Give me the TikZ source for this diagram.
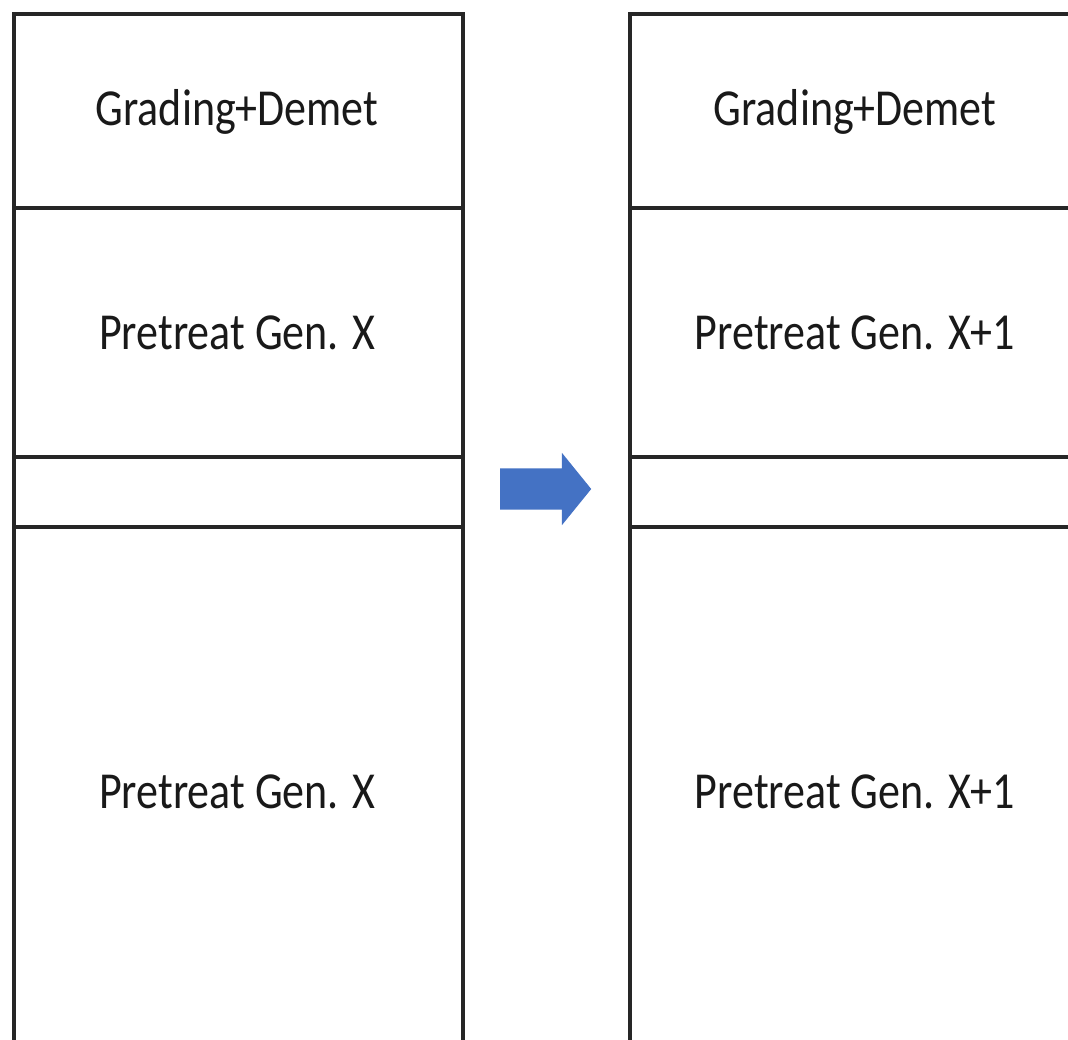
\documentclass[tikz,border=0pt]{standalone}
\usepackage{fontspec}
\usepackage{graphicx}
\setmainfont{Carlito}
\usetikzlibrary{shapes.arrows}
\definecolor{arrowblue}{HTML}{4472C4}
\definecolor{linegray}{HTML}{262626}
\newcommand\celltext[1]{\scalebox{1}[1.18]{#1}}
\tikzset{
  cell/.style={draw=linegray, line width=3.5pt, fill=white, inner sep=0pt, anchor=north west,
    font=\fontsize{44}{50}\selectfont, text=black!90},
  celllabel/.style={font=\fontsize{44}{50}\selectfont, text=black!90, inner sep=0pt},
  bigarrow/.style={shape=single arrow, fill=arrowblue, draw=none, inner xsep=0pt, inner ysep=20.5pt,
    minimum height=91pt, single arrow head extend=15.5pt, single arrow tip angle=102, anchor=west}
}
\begin{document}
\begin{tikzpicture}[x=1pt,y=-1pt]
\useasboundingbox (0,0) rectangle (1068,1039);
\clip (0,0) rectangle (1068,1039);
% left column
\node[cell, minimum width=449pt, minimum height=194pt] (l1) at (12,12) {};
\node[cell, minimum width=449pt, minimum height=249pt] (l2) at (12,206) {};
\node[cell, minimum width=449pt, minimum height=70pt] (l3) at (12,455) {};
\node[cell, minimum width=449pt, minimum height=530pt] (l4) at (12,525) {};
\node[celllabel] (l1t) at (237,112) {\celltext{Grading+Demet}};
\node[celllabel] (l2t) at (237,333) {\celltext{Pretreat Gen. X}};
\node[celllabel] (l4t) at (237,792) {\celltext{Pretreat Gen. X}};
% right column
\node[cell, minimum width=454pt, minimum height=194pt] (r1) at (628,12) {};
\node[cell, minimum width=454pt, minimum height=249pt] (r2) at (628,206) {};
\node[cell, minimum width=454pt, minimum height=70pt] (r3) at (628,455) {};
\node[cell, minimum width=454pt, minimum height=530pt] (r4) at (628,525) {};
\node[celllabel] (r1t) at (855,112) {\celltext{Grading+Demet}};
\node[celllabel] (r2t) at (855,333) {\celltext{Pretreat Gen. X+1}};
\node[celllabel] (r4t) at (855,792) {\celltext{Pretreat Gen. X+1}};
% arrow
\node[bigarrow] (arr) at (500,489) {};
\end{tikzpicture}
\end{document}
